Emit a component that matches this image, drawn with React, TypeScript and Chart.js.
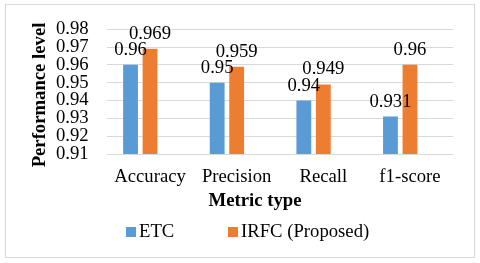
import React, { useEffect, useRef } from "react";
import { Chart, registerables } from "chart.js";

Chart.register(...registerables);

const categories = ["Accuracy", "Precision", "Recall", "f1-score"];
const etcValues = [0.96, 0.95, 0.94, 0.931];
const irfcValues = [0.969, 0.959, 0.949, 0.96];
const seriesNames = ["ETC", "IRFC (Proposed)"];
const seriesColors = ["#5B9BD5", "#ED7D31"];
const yMin = 0.91;
const yMax = 0.98;
const yStep = 0.01;
const yTitle = "Performance level";
const xTitle = "Metric type";

const FONT = "'Liberation Serif', 'Times New Roman', serif";
const FS = 18.7;

const decorPlugin = {
  id: "decor",
  afterDraw(chart: any) {
    const ctx = chart.ctx;
    ctx.save();
    // frame
    ctx.strokeStyle = "#d9d9d9";
    ctx.lineWidth = 1;
    ctx.strokeRect(5.5, 4.5, 469, 253);
    // data labels
    ctx.fillStyle = "#000";
    ctx.font = `${FS}px ${FONT}`;
    ctx.textAlign = "center";
    ctx.textBaseline = "alphabetic";
    [0, 1].forEach((di) => {
      const meta = chart.getDatasetMeta(di);
      const data = chart.data.datasets[di].data as number[];
      meta.data.forEach((bar: any, i: number) => {
        ctx.fillText(String(data[i]), bar.x, bar.y - 10);
      });
    });
    // y title
    ctx.font = `bold ${FS}px ${FONT}`;
    ctx.save();
    ctx.translate(40, 95);
    ctx.rotate(-Math.PI / 2);
    ctx.textBaseline = "middle";
    ctx.fillText(yTitle, 0, 0);
    ctx.restore();
    // x title
    ctx.textBaseline = "middle";
    ctx.fillText(xTitle, 255, 201);
    // legend
    ctx.font = `${FS}px ${FONT}`;
    ctx.textAlign = "left";
    const legendX = [126, 228];
    seriesNames.forEach((name, i) => {
      ctx.fillStyle = seriesColors[i];
      ctx.fillRect(legendX[i], 227, 10, 10);
      ctx.fillStyle = "#000";
      ctx.fillText(name, legendX[i] + 13, 232.5);
    });
    ctx.restore();
  },
};

export default function App() {
  const ref = useRef<HTMLCanvasElement>(null);
  useEffect(() => {
    const chart = new Chart(ref.current!, {
      type: "bar",
      data: {
        labels: categories,
        datasets: [
          { label: seriesNames[0], data: etcValues, backgroundColor: seriesColors[0] },
          { label: seriesNames[1], data: irfcValues, backgroundColor: seriesColors[1] },
          { label: "", data: [], backgroundColor: "rgba(0,0,0,0)" },
        ],
      },
      options: {
        responsive: false,
        animation: false,
        datasets: { bar: { categoryPercentage: 0.675, barPercentage: 0.76 } },
        layout: { padding: { left: 0, right: 26.7, top: 15, bottom: 0 } },
        plugins: { legend: { display: false }, tooltip: { enabled: false } },
        scales: {
          x: {
            grid: { display: false },
            border: { display: false },
            ticks: { color: "#000", font: { family: FONT, size: FS }, padding: 4, maxRotation: 0, autoSkip: false },
            afterFit: (s: any) => { s.height = 109; },
          },
          y: {
            min: yMin,
            max: yMax,
            grid: { color: "#d9d9d9", drawTicks: false },
            border: { display: false },
            ticks: {
              stepSize: yStep,
              autoSkip: false,
              color: "#000",
              font: { family: FONT, size: FS },
              padding: 18,
              callback: (v: any) => Number(v).toFixed(2),
            },
            afterFit: (s: any) => { s.width = 106.7; },
          },
        },
      },
      plugins: [decorPlugin],
    });
    return () => chart.destroy();
  }, []);
  return (
    <div style={{ position: "fixed", left: 0, top: 0, width: 480, height: 263, background: "#fff" }}>
      <canvas ref={ref} width={480} height={263} />
    </div>
  );
}
